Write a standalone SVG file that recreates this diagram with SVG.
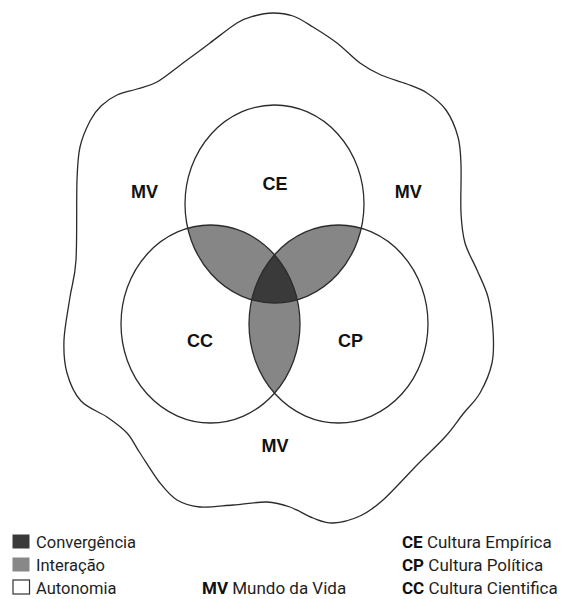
<svg xmlns="http://www.w3.org/2000/svg" width="565" height="599" viewBox="0 0 565 599">
<style>
.ln{fill:none;stroke:#2b2b2b;stroke-width:1.3}
.lbl{font-family:"Liberation Sans",Arial,sans-serif;font-weight:700;font-size:18px;fill:#111;text-anchor:middle}
.lg{font-family:Roboto,"Liberation Sans",Arial,sans-serif;font-size:16.5px;fill:#1e1e1e}
.lgr{font-size:17px}
.b{font-weight:700;fill:#111}
.inter{fill:#868686}
.conv{fill:#3a3a3a}
</style>
<defs>
<clipPath id="clipCE"><ellipse cx="274.5" cy="204" rx="89.5" ry="99"/></clipPath>
<clipPath id="clipCC"><ellipse cx="210.5" cy="324" rx="89.5" ry="99"/></clipPath>
</defs>
<rect width="565" height="599" fill="#fff"/>
<g id="mundo-da-vida">
<path class="ln" d="M273,13 C279.5,13 286.3,13.7 293,16 S305.7,22.5 313,27 S329.2,37 337,43 S352.7,57.7 360,63 S373.2,71.5 381,75 S399.3,81 407,84 S420.5,88.7 427,93 S440.8,102.7 446,110 S455.5,127.8 458,137 S460.5,152.3 461,165 S460.3,200 461,213 S462.3,233.5 465,243 S473.2,261 477,270 S485.3,287 488,297 S492.3,319 493,330 S494.2,352.5 492,363 S484.8,384.5 480,393 S468.8,406.7 463,414 S452.7,428.5 445,437 S427.3,454.5 417,465 S392.5,491.5 383,500 S368.3,512.2 360,516 S340.8,522.7 333,523 S320.2,520.7 313,518 S297.7,509.7 290,507 S276.5,502.3 267,502 S244.2,504.2 233,505 S209.3,507.8 200,507 S183.7,504 177,500 S166.2,490.8 160,483 S145.5,461.3 140,453 S132.5,439 127,433 S114.7,422.3 107,417 S87.7,408.3 81,401 S69.8,383.2 67,373 S63.5,352.7 64,340 S68,310.3 70,297 S74.8,279.5 76,260 S76.3,198.8 77,180 S77.8,156.8 80,147 S86.5,127.8 90,121 S96.5,110.3 101,106 S111,97.8 117,95 S130.3,91.2 137,89 S149.3,86.3 157,82 S174.2,69.5 183,63 S201,49.7 210,43 S229.7,27.5 237,23 S248,17.7 254,16 S266.5,13 273,13 Z"/>
</g>
<g id="interacao">
<ellipse class="inter" cx="210.5" cy="324" rx="89.5" ry="99" clip-path="url(#clipCE)"/>
<ellipse class="inter" cx="338.5" cy="324" rx="89.5" ry="99" clip-path="url(#clipCE)"/>
<ellipse class="inter" cx="338.5" cy="324" rx="89.5" ry="99" clip-path="url(#clipCC)"/>
</g>
<g id="convergencia" clip-path="url(#clipCE)">
<ellipse class="conv" cx="338.5" cy="324" rx="89.5" ry="99" clip-path="url(#clipCC)"/>
</g>
<g id="ce"><ellipse class="ln" cx="274.5" cy="204" rx="89.5" ry="99"/><text class="lbl" x="275" y="190">CE</text></g>
<g id="cc"><ellipse class="ln" cx="210.5" cy="324" rx="89.5" ry="99"/><text class="lbl" x="200" y="347">CC</text></g>
<g id="cp"><ellipse class="ln" cx="338.5" cy="324" rx="89.5" ry="99"/><text class="lbl" x="350.5" y="347">CP</text></g>
<g id="mv-labels">
<text class="lbl" x="144.5" y="198">MV</text>
<text class="lbl" x="408.3" y="198">MV</text>
<text class="lbl" x="275" y="452">MV</text>
</g>
<g id="legend">
<rect x="12.5" y="534.5" width="17" height="14" fill="#3a3a3a"/>
<text class="lg" x="36" y="548">Convergência</text>
<rect x="12.5" y="557.5" width="17" height="14" fill="#888"/>
<text class="lg" x="36" y="571">Interação</text>
<rect x="13" y="580" width="16.5" height="14" fill="#fff" stroke="#333" stroke-width="1.2"/>
<text class="lg" x="36" y="593.5">Autonomia</text>
<text class="lg lgr" x="202" y="593.5"><tspan class="b">MV</tspan> Mundo da Vida</text>
<text class="lg lgr" x="402" y="548"><tspan class="b">CE</tspan> Cultura Empírica</text>
<text class="lg lgr" x="402" y="571"><tspan class="b">CP</tspan> Cultura Política</text>
<text class="lg lgr" x="402" y="593.5"><tspan class="b">CC</tspan> Cultura Cientifica</text>
</g>
</svg>
